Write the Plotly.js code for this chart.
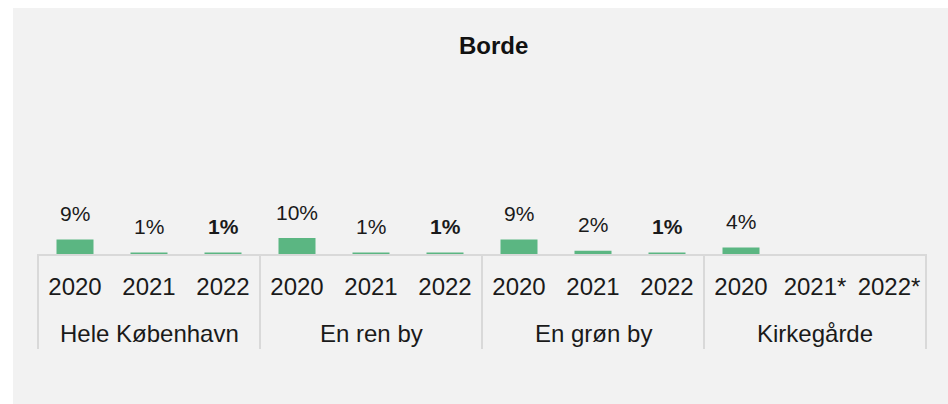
<!DOCTYPE html>
<html>
<head>
<meta charset="utf-8">
<script src="https://cdn.plot.ly/plotly-3.0.1.min.js"></script>
<style>
  html, body { margin: 0; padding: 0; background: #ffffff; }
  #chart { position: absolute; left: 13px; top: 8px; width: 935px; height: 396px; }
</style>
</head>
<body>
<div id="chart"></div>
<script>
const chartTitle = 'Borde';
const groups = ['Hele København','Hele København','Hele København',
                'En ren by','En ren by','En ren by',
                'En grøn by','En grøn by','En grøn by',
                'Kirkegårde','Kirkegårde','Kirkegårde'];
const years  = ['2020','2021','2022',
                '2020','2021','2022',
                '2020','2021','2022',
                '2020','2021*','2022*'];
const values = [9, 1, 1, 10, 1, 1, 9, 2, 1, 4, null, null];

const FONT = 'Liberation Sans, Arial, sans-serif';
const barColor = '#5bb682';
const lineColor = '#d9d9d9';

const idx = years.map((_, i) => i);
const xmin = -0.5, xmax = years.length - 0.5;

const trace = {
  type: 'bar',
  x: idx,
  y: values,
  marker: { color: barColor },
  width: 0.5,
  hoverinfo: 'skip'
};

const annotations = [];
values.forEach((v, i) => {
  if (v === null) return;
  const txt = v + '%';
  annotations.push({
    x: i, y: v, xref: 'x', yref: 'y',
    text: years[i] === '2022' ? '<b>' + txt + '</b>' : txt,
    showarrow: false,
    xanchor: 'center', yanchor: 'middle',
    yshift: 26,
    font: { family: FONT, size: 21, color: '#1a1a1a' }
  });
});

// group labels and dividers derived from the groups array
const shapes = [];
const groupNames = [...new Set(groups)];
groupNames.forEach(g => {
  const first = groups.indexOf(g);
  const last = groups.lastIndexOf(g);
  annotations.push({
    x: (first + last) / 2, xref: 'x',
    y: 0, yref: 'paper', yshift: -79,
    text: g, showarrow: false,
    xanchor: 'center', yanchor: 'middle',
    font: { family: FONT, size: 24, color: '#1a1a1a' }
  });
});
const boundaries = [xmin];
groups.forEach((g, i) => { if (i > 0 && g !== groups[i - 1]) boundaries.push(i - 0.5); });
boundaries.push(xmax);
boundaries.forEach(b => {
  const px = (b - xmin) / (xmax - xmin);
  shapes.push({
    type: 'line', xref: 'paper', yref: 'paper',
    x0: px, x1: px, y0: 0, y1: -95 / 160,
    line: { color: lineColor, width: 2 }
  });
});

const layout = {
  width: 935, height: 396,
  paper_bgcolor: '#f2f2f2',
  plot_bgcolor: '#f2f2f2',
  margin: { l: 25, r: 22, t: 86, b: 150 },
  showlegend: false,
  title: {
    text: '<b>' + chartTitle + '</b>',
    font: { family: FONT, size: 24, color: '#111111' },
    xref: 'container', x: 0.514, xanchor: 'center',
    yref: 'container', y: 1 - 38 / 396, yanchor: 'middle'
  },
  xaxis: {
    type: 'linear',
    range: [xmin, xmax],
    tickmode: 'array', tickvals: idx, ticktext: years,
    showline: true, linecolor: lineColor, linewidth: 2,
    ticks: 'outside', ticklen: 10, tickcolor: 'rgba(0,0,0,0)',
    showgrid: false, zeroline: false,
    tickfont: { family: FONT, size: 24, color: '#1a1a1a' }
  },
  yaxis: {
    range: [0, 100],
    visible: false,
    showgrid: false, zeroline: false
  },
  annotations: annotations,
  shapes: shapes
};

Plotly.newPlot('chart', [trace], layout, { displayModeBar: false, staticPlot: true });
</script>
</body>
</html>
